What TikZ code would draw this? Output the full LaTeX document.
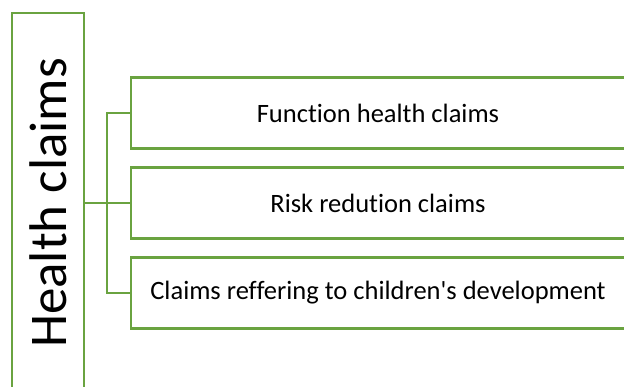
\documentclass[tikz,border=0pt]{standalone}
\usepackage{fontspec}
\setmainfont{Carlito}[Ligatures={NoCommon}]
\usetikzlibrary{positioning}
\definecolor{claimgreen}{RGB}{106,163,64}

\begin{document}
\begin{tikzpicture}[x=1pt,y=-1pt,
    mainbox/.style={draw=claimgreen,line width=2.2pt,fill=white,inner sep=0pt},
    subbox/.style={draw=claimgreen,line width=2.2pt,fill=white,inner sep=0pt,
        minimum width=494pt,minimum height=71pt,font=\fontsize{26.5}{30}\selectfont},
    link/.style={draw=claimgreen,line width=2.2pt}]
        % Definition
        \pgfmathsetmacro{\bx}{378}
        \pgfmathsetmacro{\gap}{90}

        % Frame
        \clip (0,0) rectangle (624,387);

        % Main box with the turned title
        \node[mainbox,minimum width=72pt,minimum height=380pt] (health) at (48,203)
            {\rotatebox{90}{\fontsize{53}{60}\selectfont Health claims}};

        % Claim boxes
        \node[subbox] (function) at (\bx,203-\gap) {Function health claims};
        \node[subbox] (risk) at (\bx,203) {Risk redution claims};
        \node[subbox] (children) at (\bx,203+\gap) {Claims reffering to children\textquotesingle s development};

        % Draw the fork
        \coordinate (fork) at (107,203);
        \draw[link] (health.east) -- (fork);
        \draw[link] (fork) |- (function.west);
        \draw[link] (fork) -- (risk.west);
        \draw[link] (fork) |- (children.west);
\end{tikzpicture}
\end{document}
